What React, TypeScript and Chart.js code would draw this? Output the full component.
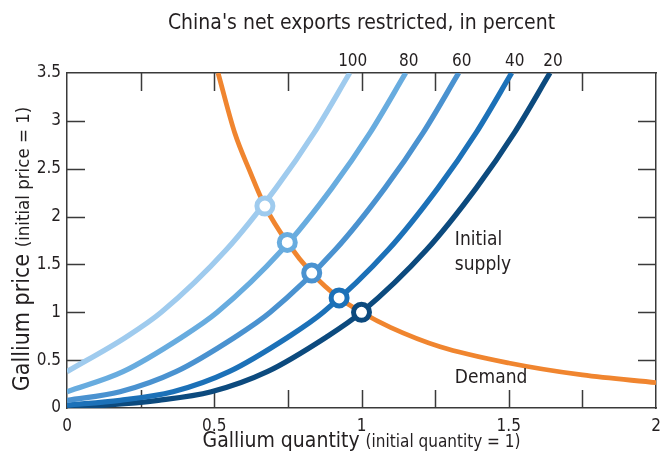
import React, { useEffect, useRef } from "react";
import { Chart, registerables } from "chart.js";

Chart.register(...registerables);

const FONT = "'Liberation Sans Narrow', 'DejaVu Sans Condensed', 'Roboto', sans-serif";
const INK = "#231f20";
const FRAME = "#3a3a3a";

// Demand curve (quantity, price)
const demandQ = [0.513, 0.57, 0.62, 0.672, 0.748, 0.831, 0.924, 1.0, 1.1, 1.267, 1.5, 1.75, 2.0];
const demandP = [3.5, 2.87, 2.48, 2.11, 1.73, 1.41, 1.15, 1.0, 0.84, 0.64, 0.47, 0.345, 0.265];

// Supply curves, one per restriction level
const supply100Q = [0, 0.2, 0.32, 0.54, 0.71, 0.84, 0.96];
const supply100P = [0.38, 0.74, 1.0, 1.65, 2.3, 2.88, 3.5];

const supply80Q = [0, 0.19, 0.39, 0.51, 0.73, 0.9, 1.03, 1.15];
const supply80P = [0.17, 0.38, 0.74, 1.0, 1.65, 2.3, 2.88, 3.5];

const supply60Q = [0, 0.18, 0.37, 0.57, 0.69, 0.91, 1.08, 1.21, 1.33];
const supply60P = [0.08, 0.17, 0.38, 0.74, 1.0, 1.65, 2.3, 2.88, 3.5];

const supply40Q = [0, 0.18, 0.36, 0.55, 0.75, 0.87, 1.09, 1.26, 1.39, 1.51];
const supply40P = [0.03, 0.08, 0.17, 0.38, 0.74, 1.0, 1.65, 2.3, 2.88, 3.5];

const supply20Q = [0, 0.13, 0.31, 0.49, 0.68, 0.88, 1.0, 1.22, 1.39, 1.52, 1.64];
const supply20P = [0.01, 0.03, 0.08, 0.17, 0.38, 0.74, 1.0, 1.65, 2.3, 2.88, 3.5];

const restrictionLabels = ["100", "80", "60", "40", "20"];
const supplyColors = ["#9fcbee", "#68acdf", "#4a92d0", "#1c71b8", "#0c4a7e"];
const demandColor = "#f0852f";

// Market equilibria where each supply curve meets demand
const equilibriumQ = [0.672, 0.748, 0.831, 0.924, 1.0];
const equilibriumP = [2.11, 1.73, 1.41, 1.15, 1.0];

const supplyQ = [supply100Q, supply80Q, supply60Q, supply40Q, supply20Q];
const supplyP = [supply100P, supply80P, supply60P, supply40P, supply20P];

const toPoints = (xs: number[], ys: number[]) => xs.map((x, i) => ({ x, y: ys[i] }));

const TICK_LEN = 18;

const innerTicks = {
  id: "innerTicks",
  beforeDatasetsDraw(chart: any) {
    const { ctx, chartArea: a, scales } = chart;
    ctx.save();
    ctx.strokeStyle = FRAME;
    ctx.lineWidth = 1.5;
    ctx.beginPath();
    for (const t of scales.x.ticks) {
      if (t.value <= scales.x.min || t.value >= scales.x.max) continue;
      const px = Math.round(scales.x.getPixelForValue(t.value)) + 0.5;
      ctx.moveTo(px, a.bottom);
      ctx.lineTo(px, a.bottom - TICK_LEN);
      ctx.moveTo(px, a.top);
      ctx.lineTo(px, a.top + TICK_LEN);
    }
    for (const t of scales.y.ticks) {
      if (t.value <= scales.y.min || t.value >= scales.y.max) continue;
      const py = Math.round(scales.y.getPixelForValue(t.value)) + 0.5;
      ctx.moveTo(a.left, py);
      ctx.lineTo(a.left + TICK_LEN, py);
      ctx.moveTo(a.right, py);
      ctx.lineTo(a.right - TICK_LEN, py);
    }
    ctx.stroke();
    ctx.restore();
  },
};

const textLayer = {
  id: "textLayer",
  afterDraw(chart: any) {
    const { ctx, chartArea: a, scales } = chart;
    const x = scales.x;
    const y = scales.y;
    ctx.save();
    ctx.fillStyle = INK;
    ctx.textBaseline = "alphabetic";

    // Axis title with a smaller parenthetical
    const drawMixed = (big: string, small: string, cx: number, cy: number, bigSize: number, smallSize: number) => {
      ctx.font = `${bigSize}px ${FONT}`;
      const w1 = ctx.measureText(big).width;
      ctx.font = `${smallSize}px ${FONT}`;
      const w2 = ctx.measureText(small).width;
      const start = cx - (w1 + w2) / 2;
      ctx.textAlign = "left";
      ctx.font = `${bigSize}px ${FONT}`;
      ctx.fillText(big, start, cy);
      ctx.font = `${smallSize}px ${FONT}`;
      ctx.fillText(small, start + w1, cy);
    };

    drawMixed("Gallium quantity ", "(initial quantity = 1)", (a.left + a.right) / 2, 447, 21, 17);

    ctx.save();
    ctx.translate(29, 249);
    ctx.rotate(-Math.PI / 2);
    drawMixed("Gallium price ", "(initial price = 1)", 0, 0, 23, 18.5);
    ctx.restore();

    ctx.textAlign = "center";
    ctx.font = `21px ${FONT}`;
    ctx.fillText("China's net exports restricted, in percent", (a.left + a.right) / 2, 29);

    ctx.font = `17px ${FONT}`;
    restrictionLabels.forEach((lab, i) => {
      const q = supplyQ[i][supplyQ[i].length - 1];
      ctx.fillText(lab, x.getPixelForValue(q) + 3, 66);
    });

    ctx.textAlign = "left";
    ctx.font = `19px ${FONT}`;
    const lx = x.getPixelForValue(1.317);
    const ly = y.getPixelForValue(1.7);
    ctx.fillText("Initial", lx, ly);
    ctx.fillText("supply", lx, ly + 25);
    ctx.fillText("Demand", lx, y.getPixelForValue(0.26));
    ctx.restore();
  },
};

export default function App() {
  const ref = useRef<HTMLCanvasElement | null>(null);

  useEffect(() => {
    document.body.style.margin = "0";
    const canvas = ref.current;
    if (!canvas) return;

    const supplySets = supplyQ.map((qs, i) => ({
      type: "line" as const,
      label: restrictionLabels[i],
      data: toPoints(qs, supplyP[i]),
      borderColor: supplyColors[i],
      borderWidth: 5.3,
      pointRadius: 0,
      cubicInterpolationMode: "monotone" as const,
      clip: 0,
    }));

    const chart = new Chart(canvas, {
      type: "line",
      data: {
        datasets: [
          {
            type: "scatter",
            label: "Equilibrium",
            data: toPoints(equilibriumQ, equilibriumP),
            showLine: false,
            pointRadius: 8,
            pointBorderWidth: 5,
            pointBackgroundColor: "#ffffff",
            pointBorderColor: supplyColors,
            clip: false,
          } as any,
          ...supplySets,
          {
            type: "line",
            label: "Demand",
            data: toPoints(demandQ, demandP),
            borderColor: demandColor,
            borderWidth: 4.8,
            pointRadius: 0,
            cubicInterpolationMode: "monotone",
            clip: 0,
          },
        ],
      },
      options: {
        responsive: false,
        maintainAspectRatio: false,
        devicePixelRatio: 1,
        animation: false,
        layout: { padding: 0, autoPadding: false },
        plugins: { legend: { display: false }, tooltip: { enabled: false } },
        scales: {
          x: {
            type: "linear",
            position: "bottom",
            min: 0,
            max: 2,
            grid: { display: false, drawTicks: false },
            border: { display: true, color: FRAME, width: 1.5 },
            ticks: {
              stepSize: 0.25,
              padding: 8,
              color: INK,
              font: { family: FONT, size: 17 },
              maxRotation: 0,
              autoSkip: false,
              callback: (v: any) => (Math.abs(v * 2 - Math.round(v * 2)) < 1e-6 ? String(v) : ""),
            },
            afterFit: (s: any) => {
              s.height = 54;
              s.paddingLeft = 0;
              s.paddingRight = 0;
            },
          },
          x2: {
            type: "linear",
            position: "top",
            min: 0,
            max: 2,
            grid: { display: false, drawTicks: false },
            border: { display: true, color: FRAME, width: 1.5 },
            ticks: { display: false, stepSize: 0.25 },
            afterFit: (s: any) => {
              s.height = 73;
              s.paddingLeft = 0;
              s.paddingRight = 0;
            },
          },
          y: {
            type: "linear",
            position: "left",
            min: 0,
            max: 3.5,
            grid: { display: false, drawTicks: false },
            border: { display: true, color: FRAME, width: 1.5 },
            ticks: {
              stepSize: 0.5,
              padding: 6,
              color: INK,
              font: { family: FONT, size: 17 },
              callback: (v: any) => String(v),
            },
            afterFit: (s: any) => {
              s.width = 67;
              s.paddingTop = 0;
              s.paddingBottom = 0;
            },
          },
          y2: {
            type: "linear",
            position: "right",
            min: 0,
            max: 3.5,
            grid: { display: false, drawTicks: false },
            border: { display: true, color: FRAME, width: 1.5 },
            ticks: { display: false, stepSize: 0.5 },
            afterFit: (s: any) => {
              s.width = 6;
              s.paddingTop = 0;
              s.paddingBottom = 0;
            },
          },
        },
      },
      plugins: [innerTicks, textLayer],
    });

    return () => chart.destroy();
  }, []);

  return (
    <canvas
      ref={ref}
      width={662}
      height={462}
      style={{ display: "block", width: 662, height: 462 }}
    />
  );
}
